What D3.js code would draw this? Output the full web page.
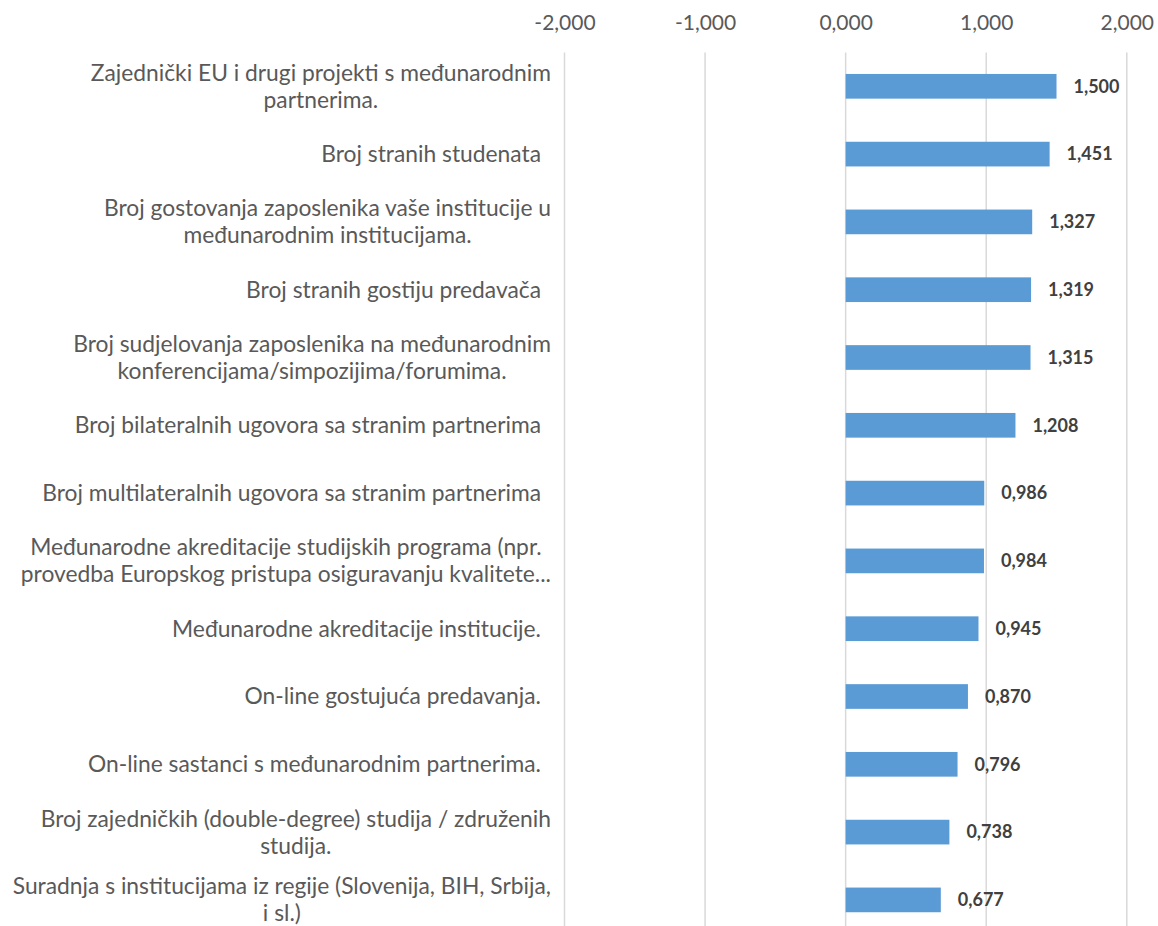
<!DOCTYPE html>
<html>
<head>
<meta charset="utf-8">
<script src="https://cdn.jsdelivr.net/npm/d3@7"></script>
<style>
  html, body { margin: 0; padding: 0; background: #fff; }
  svg { display: block; }
</style>
</head>
<body>
<svg id="chart" width="1158" height="926"></svg>
<script>
// Category labels (line breaks as wrapped in the original)
const categories = [
  'Zajednički EU i drugi projekti s međunarodnim\npartnerima.',
  'Broj stranih studenata',
  'Broj gostovanja zaposlenika vaše institucije u\nmeđunarodnim institucijama.',
  'Broj stranih gostiju predavača',
  'Broj sudjelovanja zaposlenika na međunarodnim\nkonferencijama/simpozijima/forumima.',
  'Broj bilateralnih ugovora sa stranim partnerima',
  'Broj multilateralnih ugovora sa stranim partnerima',
  'Međunarodne akreditacije studijskih programa (npr.\nprovedba Europskog pristupa osiguravanju kvalitete...',
  'Međunarodne akreditacije institucije.',
  'On-line gostujuća predavanja.',
  'On-line sastanci s međunarodnim partnerima.',
  'Broj zajedničkih (double-degree) studija / združenih\nstudija.',
  'Suradnja s institucijama iz regije (Slovenija, BIH, Srbija,\ni sl.)'
];

const values = [1.500, 1.451, 1.327, 1.319, 1.315, 1.208, 0.986, 0.984, 0.945, 0.870, 0.796, 0.738, 0.677];

const xTicks = [-2, -1, 0, 1, 2];

const data = categories.map((c, i) => ({ label: c, value: values[i] }));

// decimal comma like the source
const locale = d3.formatLocale({ decimal: ',', thousands: '.', grouping: [3], currency: ['', ''], minus: '-' });
const fmt = locale.format('.3f');

const svg = d3.select('#chart');

const x = d3.scaleLinear()
  .domain([-2, 2])
  .range([564.5, 1126.8]);

const y = d3.scaleBand()
  .domain(categories)
  .range([52.4, 933.8])
  .paddingInner(0.636)
  .paddingOuter(0.318);

// gridlines
svg.append('g')
  .selectAll('line')
  .data(xTicks)
  .join('line')
  .attr('x1', d => x(d))
  .attr('x2', d => x(d))
  .attr('y1', 52.5)
  .attr('y2', 926)
  .attr('stroke', '#d9d9d9')
  .attr('stroke-width', 1.5);

// top axis labels
const axis = d3.axisTop(x).tickValues(xTicks).tickFormat(fmt).tickSize(0).tickPadding(0);
const axisG = svg.append('g')
  .attr('transform', 'translate(0,30)')
  .call(axis);
axisG.select('.domain').remove();
axisG.selectAll('text')
  .attr('font-family', 'Lato, "Open Sans", sans-serif')
  .attr('font-size', 21)
  .attr('fill', '#595959');

// bars
svg.append('g')
  .selectAll('rect')
  .data(data)
  .join('rect')
  .attr('x', x(0))
  .attr('y', d => y(d.label))
  .attr('width', d => x(d.value) - x(0))
  .attr('height', y.bandwidth())
  .attr('fill', '#5b9bd5');

// value labels
svg.append('g')
  .selectAll('text')
  .data(data)
  .join('text')
  .attr('x', d => x(d.value) + 17)
  .attr('y', d => y(d.label) + y.bandwidth() / 2)
  .attr('dy', '0.35em')
  .attr('font-family', 'Lato, "Open Sans", sans-serif')
  .attr('font-weight', 'bold')
  .attr('font-size', 18)
  .attr('fill', '#404040')
  .text(d => fmt(d.value));

// category labels: single lines right-aligned, wrapped lines centred in their block
const labelG = svg.append('g')
  .attr('font-family', 'Lato, "Open Sans", sans-serif')
  .attr('font-size', 22.8)
  .attr('fill', '#595959');

data.forEach(d => {
  const lines = d.label.split('\n');
  const cy = y(d.label) + y.bandwidth() / 2;
  const lineH = 27;
  const t = labelG.append('text');
  if (lines.length === 1) {
    t.attr('x', 541).attr('y', cy).attr('dy', '0.35em').attr('text-anchor', 'end').text(lines[0]);
  } else {
    const spans = lines.map((l, i) => t.append('tspan')
      .attr('y', cy + (i - (lines.length - 1) / 2) * lineH)
      .attr('dy', '0.35em')
      .text(l));
    const w = d3.max(spans, s => s.node().getComputedTextLength());
    const cx = 551 - w / 2;
    spans.forEach(s => s.attr('x', cx).attr('text-anchor', 'middle'));
  }
});
</script>
</body>
</html>
